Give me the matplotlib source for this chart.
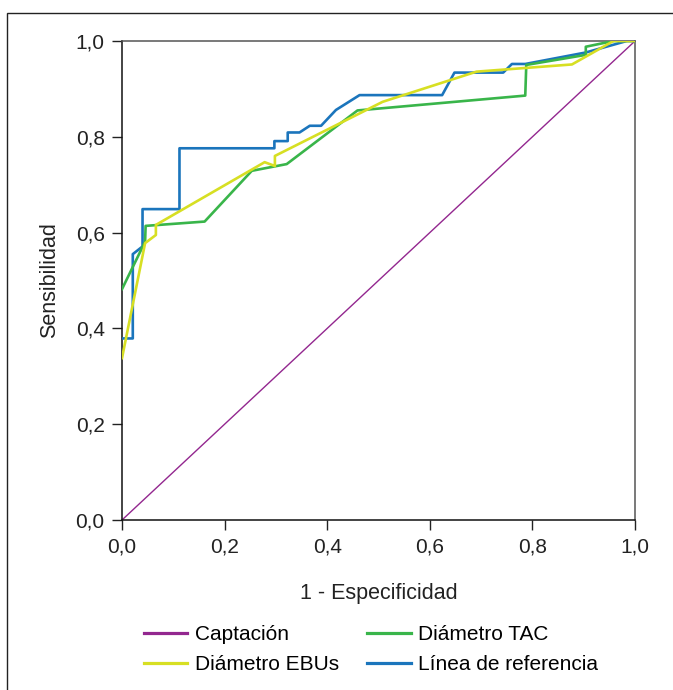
import matplotlib
matplotlib.use('Agg')
import matplotlib.pyplot as plt
from matplotlib.patches import Rectangle

plt.rcParams['font.family'] = ['Liberation Sans', 'DejaVu Sans']

# Curvas ROC (1 - especificidad, sensibilidad)
ref_x = [0.0, 0.021, 0.021, 0.040, 0.040, 0.112, 0.112, 0.297, 0.297, 0.323, 0.323,
         0.346, 0.366, 0.388, 0.417, 0.463, 0.624, 0.648, 0.743, 0.760, 0.786,
         0.904, 0.984, 1.0]
ref_y = [0.379, 0.379, 0.555, 0.571, 0.649, 0.649, 0.776, 0.776, 0.791, 0.791, 0.809,
         0.809, 0.823, 0.823, 0.856, 0.887, 0.887, 0.934, 0.934, 0.952, 0.952,
         0.976, 1.0, 1.0]

tac_x = [0.0, 0.045, 0.046, 0.161, 0.253, 0.321, 0.459, 0.786, 0.788, 0.904, 0.904,
         0.958, 1.0]
tac_y = [0.482, 0.581, 0.614, 0.623, 0.729, 0.743, 0.855, 0.886, 0.950, 0.971, 0.988,
         1.0, 1.0]

ebus_x = [0.0, 0.045, 0.066, 0.066, 0.278, 0.298, 0.298, 0.508, 0.691, 0.877, 0.958, 1.0]
ebus_y = [0.338, 0.578, 0.595, 0.616, 0.747, 0.739, 0.760, 0.873, 0.936, 0.951, 1.0, 1.0]

diag_x = [0.0, 1.0]
diag_y = [0.0, 1.0]

ticks = [0.0, 0.2, 0.4, 0.6, 0.8, 1.0]
tick_labels = ['0,0', '0,2', '0,4', '0,6', '0,8', '1,0']

fig = plt.figure(figsize=(6.73, 6.90), dpi=100)
ax = fig.add_axes([0.1813, 0.2464, 0.7623, 0.6942])

l_cap, = ax.plot(diag_x, diag_y, color='#93278f', lw=1.0, zorder=2, label='Captación')
l_ref, = ax.plot(ref_x, ref_y, color='#1b75bc', lw=1.9, zorder=3, label='Línea de referencia')
l_tac, = ax.plot(tac_x, tac_y, color='#39b54a', lw=1.9, zorder=4, label='Diámetro TAC')
l_ebus, = ax.plot(ebus_x, ebus_y, color='#d7df23', lw=1.9, zorder=5, label='Diámetro EBUs')

ax.set_xlim(0, 1)
ax.set_ylim(0, 1)
ax.set_xticks(ticks)
ax.set_xticklabels(tick_labels)
ax.set_yticks(ticks)
ax.set_yticklabels(tick_labels)
ax.tick_params(axis='both', direction='out', length=7.5, width=1, labelsize=15,
               colors='#222222', pad=5)

for side in ['left', 'bottom']:
    ax.spines[side].set_color('#111111')
    ax.spines[side].set_linewidth(1.1)
for side in ['top', 'right']:
    ax.spines[side].set_color('#555555')
    ax.spines[side].set_linewidth(1.1)

ax.set_xlabel('1 - Especificidad', fontsize=15.5, color='#222222')
ax.set_ylabel('Sensibilidad', fontsize=15.5, color='#222222')
ax.xaxis.set_label_coords(0.5, -0.154)
ax.xaxis.label.set_va('center')
ax.yaxis.set_label_coords(-0.142, 0.5)
ax.yaxis.label.set_va('center')

leg = fig.legend([l_cap, l_ebus, l_tac, l_ref],
                 ['Captación', 'Diámetro EBUs', 'Diámetro TAC', 'Línea de referencia'],
                 ncol=2, loc='center', bbox_to_anchor=(0.551, 0.0585), frameon=False,
                 fontsize=15, handlelength=2.1, handletextpad=0.35, columnspacing=1.35,
                 labelspacing=0.52, borderpad=0)
for ln in leg.get_lines():
    ln.set_linewidth(2.3)

# marco exterior
fig.patches.append(Rectangle((7 / 673, -0.1), 1.2, 0.1 + (690 - 13) / 690,
                             transform=fig.transFigure, fill=False,
                             edgecolor='#222222', lw=1.0, clip_on=False))

fig.savefig('out.png', dpi=100)
